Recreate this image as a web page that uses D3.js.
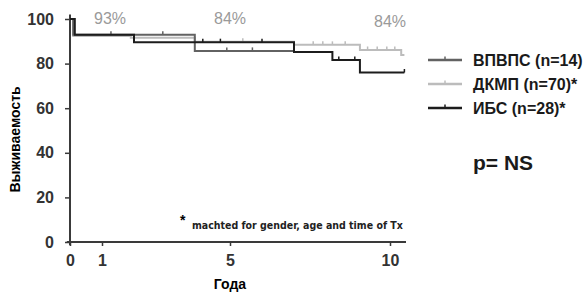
<!DOCTYPE html>
<html>
<head>
<meta charset="utf-8">
<script src="https://cdn.jsdelivr.net/npm/d3@7"></script>
<style>
  body { margin: 0; background: #fff; }
  svg { font-family: "Liberation Sans", Arial, sans-serif; }
</style>
</head>
<body>
<svg id="chart" width="587" height="293"></svg>
<script>
// Survival data (Kaplan-Meier steps), years / percent
var seriesNames = ["ДКМП (n=70)*", "ВПВПС (n=14)", "ИБС (n=28)*"];
var seriesColors = ["#bcbcbc", "#626262", "#1c1c1c"];

var dkmpTimes = [0, 0.1, 1.9, 3.9, 7.0, 9.06, 10.35];
var dkmpValues = [100, 92.4, 91.6, 89.8, 88.4, 86.1, 83.9];
var dkmpEnd = 10.45;
var dkmpCensor = [5.4, 7.6, 7.9, 8.2, 8.6, 9.3, 9.6, 9.9, 10.15];

var vpvpsTimes = [0, 0.1, 3.9];
var vpvpsValues = [100, 92.9, 85.7];
var vpvpsEnd = 7.0;
var vpvpsCensor = [1.28, 2.9, 4.9, 5.7];

var ibsTimes = [0, 0.15, 2.0, 7.0, 8.2, 9.06];
var ibsValues = [100, 92.9, 89.6, 85.2, 81.6, 76.0];
var ibsEnd = 10.45;
var ibsCensor = [4.15, 4.7, 6.0, 8.4, 8.9, 10.45];

var xTicks = [0, 1, 5, 10];
var yTicks = [0, 20, 40, 60, 80, 100];
var pctLabels = [{t: 1.25, v: "93%"}, {t: 5, v: "84%"}, {t: 10, v: "84%"}];

var svg = d3.select("#chart");

var x = d3.scaleLinear().domain([0, 10.5]).range([70, 406]),
    y = d3.scaleLinear().domain([0, 100]).range([242, 19]);

var axisColor = "#3a3a3a";

// x Axis
var gx = svg.append("g")
  .attr("transform", "translate(0," + y(0) + ")")
  .call(d3.axisBottom(x).tickValues(xTicks).tickSize(4).tickPadding(9).tickSizeOuter(0));
gx.select(".domain").remove();
gx.selectAll("line").attr("stroke", axisColor).attr("stroke-width", 1.5);
gx.selectAll("text")
  .style("font-size", "16px").style("font-weight", "bold").attr("fill", "#333");

// y Axis
var gy = svg.append("g")
  .attr("transform", "translate(" + x(0) + ",0)")
  .call(d3.axisLeft(y).tickValues(yTicks).tickSize(5).tickPadding(11).tickSizeOuter(0));
gy.select(".domain").remove();
gy.selectAll("line").attr("stroke", axisColor).attr("stroke-width", 1.5);
gy.selectAll("text")
  .style("font-size", "16px").style("font-weight", "bold").attr("fill", "#333");

// axis lines
svg.append("line")
  .attr("x1", x(-0.1)).attr("x2", x(10.5))
  .attr("y1", y(0)).attr("y2", y(0))
  .attr("stroke", axisColor).attr("stroke-width", 2);
svg.append("line")
  .attr("x1", x(0)).attr("x2", x(0))
  .attr("y1", y(-1.5)).attr("y2", y(102))
  .attr("stroke", axisColor).attr("stroke-width", 2);

// Axis titles
svg.append("text")
  .attr("x", x(5)).attr("y", 289)
  .attr("text-anchor", "middle")
  .style("font-size", "14px").style("font-weight", "bold")
  .text("Года");
svg.append("text")
  .attr("transform", "translate(20," + y(46) + ") rotate(-90)")
  .attr("text-anchor", "middle")
  .style("font-size", "14px").style("font-weight", "bold")
  .text("Выживаемость");

// percent labels
svg.selectAll(".pct")
  .data(pctLabels)
  .enter().append("text")
    .attr("class", "pct")
    .attr("x", function(d) {return x(d.t);})
    .attr("y", function(d, i) {return i === 2 ? 27 : 24;})
    .attr("text-anchor", "middle")
    .attr("fill", "#9a9a9a")
    .style("font-size", "16px")
    .text(function(d) {return d.v;});

var curves = [
  {times: dkmpTimes, values: dkmpValues, end: dkmpEnd, censor: dkmpCensor, color: seriesColors[0]},
  {times: vpvpsTimes, values: vpvpsValues, end: vpvpsEnd, censor: vpvpsCensor, color: seriesColors[1]},
  {times: ibsTimes, values: ibsValues, end: ibsEnd, censor: ibsCensor, color: seriesColors[2]}
];

function stepValue(c, t) {
  var v = c.values[0];
  c.times.forEach(function(tt, i) { if (tt <= t) v = c.values[i]; });
  return v;
}

var line = d3.line()
  .x(function(d) {return x(d[0]);})
  .y(function(d) {return y(d[1]);})
  .curve(d3.curveStepAfter);

curves.forEach(function(c) {
  var pts = c.times.map(function(t, i) {return [t, c.values[i]];});
  pts.push([c.end, c.values[c.values.length - 1]]);
  svg.append("path")
    .datum(pts)
    .attr("d", line)
    .attr("fill", "none")
    .attr("stroke", c.color)
    .attr("stroke-width", 2);
  svg.selectAll(null)
    .data(c.censor)
    .enter().append("line")
      .attr("x1", function(t) {return x(t);})
      .attr("x2", function(t) {return x(t);})
      .attr("y1", function(t) {return y(stepValue(c, t)) - 3.5;})
      .attr("y2", function(t) {return y(stepValue(c, t));})
      .attr("stroke", c.color)
      .attr("stroke-width", 1.5);
});

// Legend
var legendOrder = [1, 0, 2];
var legend = svg.selectAll(".legend")
  .data(legendOrder)
  .enter().append("g")
    .attr("class", "legend")
    .attr("transform", function(d, i) {return "translate(428," + (60 + i * 24) + ")";});
legend.append("line")
  .attr("x1", 0).attr("x2", 34)
  .attr("stroke", function(d) {return seriesColors[d];})
  .attr("stroke-width", 2.5);
legend.append("line")
  .attr("x1", 17).attr("x2", 17).attr("y1", -3.5).attr("y2", 0)
  .attr("stroke", function(d) {return seriesColors[d];})
  .attr("stroke-width", 1.5);
legend.append("text")
  .attr("x", 45).attr("y", 6)
  .style("font-size", "16px").style("font-weight", "bold")
  .attr("fill", "#1a1a1a")
  .text(function(d) {return seriesNames[d];});

svg.append("text")
  .attr("x", 473).attr("y", 170)
  .style("font-size", "21px").style("font-weight", "bold")
  .attr("fill", "#1a1a1a")
  .text("p= NS");

// footnote
svg.append("text")
  .attr("x", 180).attr("y", 225)
  .style("font-size", "14px").style("font-weight", "bold")
  .text("*");
svg.append("text")
  .attr("x", 192).attr("y", 229)
  .style("font-family", "'DejaVu Sans Condensed', 'DejaVu Sans', sans-serif")
  .style("font-size", "10.5px").style("font-weight", "bold")
  .attr("fill", "#222")
  .text("machted for gender, age and time of Tx");
</script>
</body>
</html>
